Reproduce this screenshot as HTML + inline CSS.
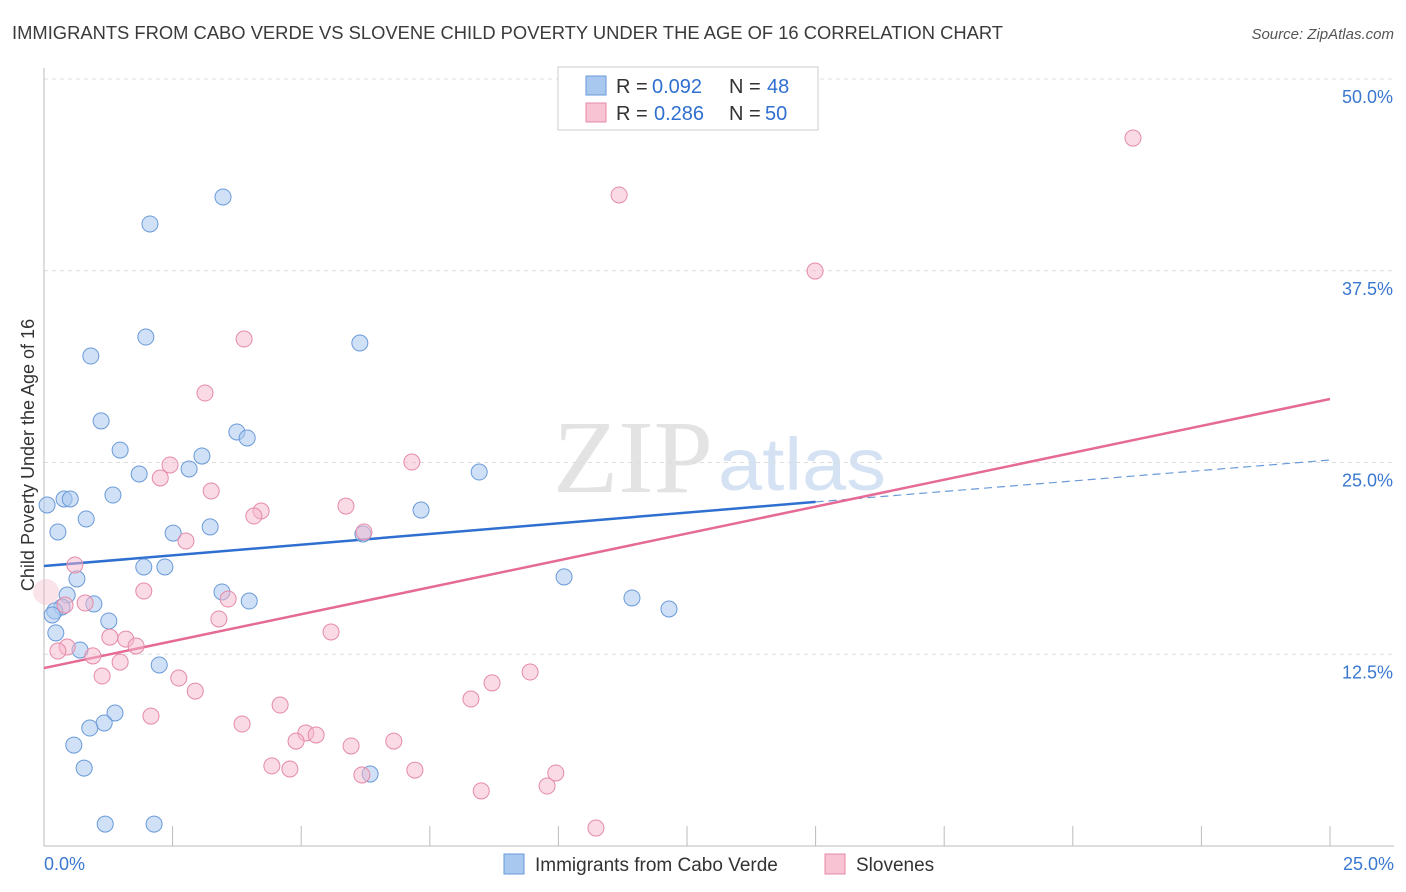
<!DOCTYPE html>
<html><head><meta charset="utf-8">
<style>
body{margin:0;background:#fff;font-family:"Liberation Sans",sans-serif;}
svg{display:block}
</style></head>
<body>
<svg id="chart" width="1406" height="892">
<text x="12" y="39" font-size="18" fill="#3a3a3a" textLength="991" lengthAdjust="spacingAndGlyphs">IMMIGRANTS FROM CABO VERDE VS SLOVENE CHILD POVERTY UNDER THE AGE OF 16 CORRELATION CHART</text>
<text x="1394" y="39" font-size="15" fill="#555" text-anchor="end" font-style="italic">Source: ZipAtlas.com</text>
<text x="553" y="492" font-size="104" fill="#e3e3e3" textLength="160" lengthAdjust="spacingAndGlyphs" font-family="Liberation Serif">ZIP</text>
<text x="718" y="490" font-size="74" fill="#d4e2f3" textLength="168" lengthAdjust="spacingAndGlyphs">atlas</text>
<g id="grid"></g>
<g id="axes"></g>
<g id="lines"></g>
<g id="points"></g>
<text x="34" y="455" font-size="18" fill="#333" text-anchor="middle" transform="rotate(-90 34 455)">Child Poverty Under the Age of 16</text>
<g>
<rect x="558" y="67" width="260" height="63" fill="#fff" stroke="#ccc"/>
<rect x="586" y="76" width="20" height="19" fill="#a9c8f0" stroke="#6a9ad8"/>
<text x="616" y="93" font-size="20" fill="#333">R = </text>
<text x="652" y="93" font-size="20" fill="#2f6fd0">0.092</text>
<text x="729" y="93" font-size="20" fill="#333">N = </text>
<text x="767" y="93" font-size="20" fill="#2f6fd0">48</text>
<rect x="586" y="103" width="20" height="19" fill="#f8c3d3" stroke="#e58aa8"/>
<text x="616" y="120" font-size="20" fill="#333">R = </text>
<text x="654" y="120" font-size="20" fill="#2f6fd0">0.286</text>
<text x="729" y="120" font-size="20" fill="#333">N = </text>
<text x="765" y="120" font-size="20" fill="#2f6fd0">50</text>
</g>
<g>
<rect x="504" y="854" width="20" height="20" fill="#a9c8f0" stroke="#6a9ad8"/>
<text x="535" y="871" font-size="19" fill="#333">Immigrants from Cabo Verde</text>
<rect x="825" y="854" width="20" height="20" fill="#f8c3d3" stroke="#e58aa8"/>
<text x="856" y="871" font-size="19" fill="#333">Slovenes</text>
</g>
</svg>
<script>
const yTicks=[12.5,25,37.5,50];
const yTickLabels=["12.5%","25.0%","37.5%","50.0%"];
const xTickLabels=["0.0%","25.0%"];
const blueX=[0.06,0.39,0.51,0.27,0.82,1.34,1.85,2.82,3.07,3.75,3.95,1.11,1.48,0.91,1.98,2.06,3.48,6.14,8.46,7.33,6.20,3.23,2.51,1.94,2.35,0.64,0.45,0.35,0.97,0.21,0.16,1.26,0.23,0.70,2.24,3.46,3.99,10.11,11.43,12.15,1.38,1.17,0.89,0.58,0.78,1.19,2.14,6.34];
const blueY=[22.23,22.62,22.62,20.47,21.32,22.88,24.25,24.58,25.42,26.99,26.60,27.71,25.81,31.94,33.18,40.55,42.31,32.79,24.38,21.90,20.34,20.80,20.40,18.19,18.19,17.41,16.36,15.58,15.78,15.32,15.06,14.67,13.89,12.78,11.80,16.56,15.97,17.54,16.17,15.45,8.67,8.02,7.69,6.58,5.08,1.43,1.43,4.69];
const pinkX=[21.17,11.18,14.99,3.89,3.13,7.15,2.45,2.26,3.25,4.22,4.08,5.87,6.22,2.76,0.60,1.94,3.58,3.40,0.80,0.41,5.58,1.28,1.59,1.79,0.45,0.27,0.95,1.48,1.13,2.62,2.94,9.45,8.71,8.30,4.59,2.08,3.85,5.09,5.29,4.90,5.97,6.80,4.43,4.78,7.21,6.18,9.95,9.78,8.50,10.73];
const pinkY=[46.15,42.44,37.48,33.05,29.53,25.03,24.84,23.99,23.14,21.84,21.51,22.16,20.47,19.88,18.32,16.62,16.10,14.80,15.84,15.71,13.95,13.62,13.49,13.04,12.97,12.71,12.39,11.99,11.08,10.95,10.10,11.34,10.63,9.58,9.19,8.47,7.95,7.37,7.24,6.84,6.52,6.84,5.22,5.02,4.95,4.63,4.76,3.91,3.59,1.17];
const blueTrend=[18.25,22.43,25.16]; // at x=0, 15, 25
const pinkTrend=[11.60,29.14]; // at x=0, 25
const NS="http://www.w3.org/2000/svg";
const sx=v=>44+v/25*1286;
const sy=v=>846-v/12.5*191.75;
function mk(tag,attrs,parent){const e=document.createElementNS(NS,tag);for(const k in attrs)e.setAttribute(k,attrs[k]);document.getElementById(parent).appendChild(e);return e;}
yTicks.forEach((t,i)=>{
  const g=mk('line',{x1:44,x2:1394,y1:sy(t),y2:sy(t),stroke:'#ddd','stroke-dasharray':'4 4'},'grid');
  
  
  const l=mk('text',{x:1393,y:sy(t)+24,'font-size':18,fill:'#3a78d0','text-anchor':'end'},'axes');
  l.textContent=yTickLabels[i];
  
  
});
const ax=mk('line',{x1:44,x2:44,y1:68,y2:846,stroke:'#bbb'},'axes');


const bx=mk('line',{x1:44,x2:1394,y1:846,y2:846,stroke:'#bbb'},'axes');


for(let i=0;i<=10;i++){
  const t=mk('line',{x1:sx(i*2.5),x2:sx(i*2.5),y1:826,y2:846,stroke:'#bbb'},'axes');
  
  
}
[[0,44,'start'],[25,1394,'end']].forEach((p,i)=>{
  const l=mk('text',{x:p[1],y:870,'font-size':18,fill:'#3a78d0','text-anchor':p[2]},'axes');
  l.textContent=xTickLabels[i];
  
  
});
const bl=mk('line',{x1:sx(0),y1:sy(blueTrend[0]),x2:sx(15),y2:sy(blueTrend[1]),stroke:'#2f6fd0','stroke-width':2.5},'lines');


const bd=mk('line',{x1:sx(15),y1:sy(blueTrend[1]),x2:sx(25),y2:sy(blueTrend[2]),stroke:'#6a9ad8','stroke-width':1.2,'stroke-dasharray':'8 5'},'lines');


const pl=mk('line',{x1:sx(0),y1:sy(pinkTrend[0]),x2:sx(25),y2:sy(pinkTrend[1]),stroke:'#e56a95','stroke-width':2.5},'lines');


blueX.forEach((x,i)=>{
  const c=mk('circle',{cx:sx(x),cy:sy(blueY[i]),r:8,fill:'rgba(169,200,240,0.55)',stroke:'#6a9ad8','stroke-width':1},'points');
  
  
});
pinkX.forEach((x,i)=>{
  const c=mk('circle',{cx:sx(x),cy:sy(pinkY[i]),r:8,fill:'rgba(245,184,203,0.5)',stroke:'#e58aa8','stroke-width':1},'points');
  
  
});
const big=mk('circle',{cx:sx(0.04),cy:sy(16.56),r:13,fill:'rgba(245,184,203,0.4)',stroke:'none'},'points');


</script>
</body></html>
